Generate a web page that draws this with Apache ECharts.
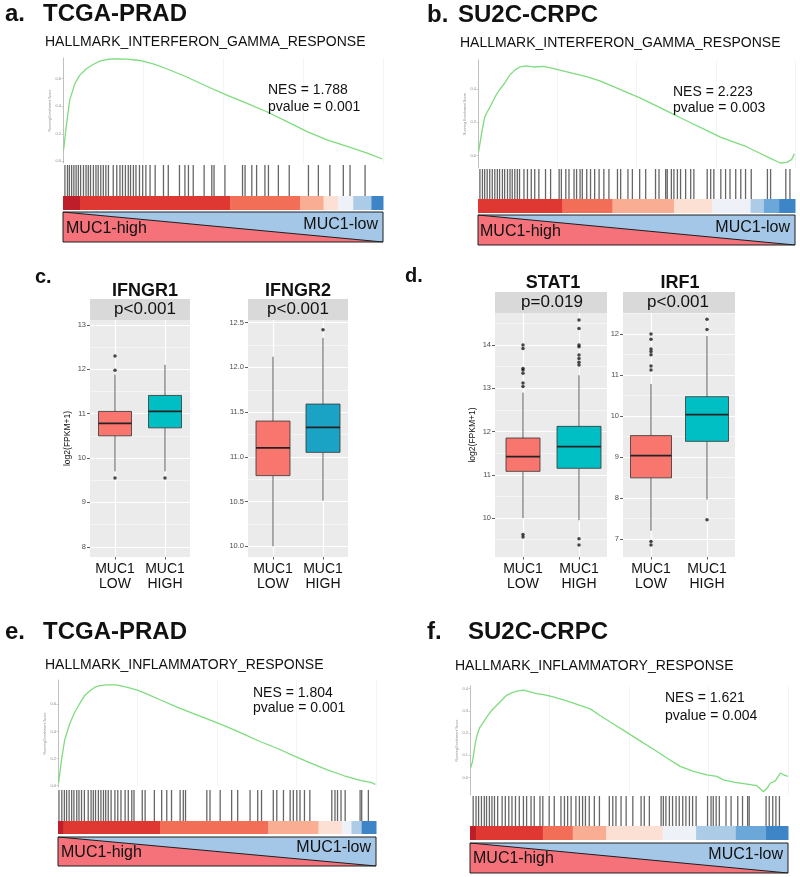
<!DOCTYPE html>
<html>
<head>
<meta charset="utf-8">
<script src="https://cdn.jsdelivr.net/npm/echarts@6/dist/echarts.min.js"></script>
<style>
html, body { margin: 0; padding: 0; background: #fff; }
#main { width: 800px; height: 877px; }
</style>
</head>
<body>
<div id="main"></div>
<script>
// ---------------- data ----------------
var groups = ['MUC1\nLOW', 'MUC1\nHIGH'];

// running enrichment score curves, [rank %, ES]
var esA = [[0.2,0.084],[1.0,0.252],[2.1,0.444],[3.7,0.564],[5.2,0.624],[7.3,0.672],[9.4,0.703],[11.5,0.727],[13.6,0.739],[15.7,0.744],[19.9,0.742],[24.0,0.732],[28.2,0.708],[32.4,0.672],[38.7,0.612],[44.9,0.545],[51.2,0.48],[57.5,0.42],[63.7,0.36],[70.0,0.288],[76.3,0.216],[82.5,0.156],[88.8,0.108],[95.1,0.06],[99.8,0.017]];
var esB = [[0.2,0.024],[1.1,0.131],[2.1,0.229],[2.8,0.259],[3.7,0.288],[4.7,0.327],[5.8,0.367],[6.8,0.396],[8.4,0.435],[10.0,0.484],[11.6,0.514],[13.2,0.533],[15.3,0.539],[17.4,0.533],[20.5,0.537],[22.6,0.529],[25.8,0.514],[30.0,0.494],[34.2,0.475],[38.4,0.449],[42.6,0.416],[46.8,0.382],[51.1,0.347],[55.3,0.308],[59.5,0.269],[63.7,0.229],[67.9,0.19],[72.1,0.151],[76.3,0.112],[80.5,0.082],[84.7,0.053],[88.9,0.014],[92.1,-0.016],[95.3,-0.045],[97.4,-0.041],[98.9,-0.025],[99.8,0.01]];
var esE = [[0.2,0.02],[1.1,0.19],[2.1,0.337],[3.7,0.459],[5.3,0.544],[6.8,0.605],[8.4,0.666],[10.0,0.698],[11.6,0.727],[13.2,0.739],[15.3,0.744],[18.4,0.744],[21.6,0.727],[24.7,0.707],[27.9,0.678],[32.1,0.634],[37.4,0.58],[42.6,0.532],[47.9,0.483],[53.2,0.434],[58.4,0.38],[63.7,0.324],[68.9,0.276],[74.2,0.22],[79.5,0.166],[84.7,0.117],[90.0,0.073],[95.3,0.037],[98.4,0.024],[99.8,0.01]];
var esF = [[0.2,0.043],[0.8,0.073],[1.6,0.149],[2.3,0.195],[3.1,0.226],[4.2,0.248],[5.2,0.271],[6.8,0.302],[8.4,0.325],[10.0,0.348],[11.5,0.37],[13.1,0.381],[14.7,0.389],[16.8,0.393],[18.9,0.386],[21.0,0.378],[23.1,0.373],[26.2,0.363],[30.4,0.345],[34.6,0.325],[37.8,0.309],[40.9,0.279],[45.1,0.241],[49.3,0.203],[53.5,0.165],[57.7,0.127],[61.9,0.088],[66.1,0.05],[70.3,0.027],[74.5,0.012],[77.6,0.005],[79.7,-0.011],[82.9,-0.021],[87.1,-0.03],[90.2,-0.037],[92.3,-0.064],[93.4,-0.049],[94.4,-0.026],[96.0,-0.015],[97.6,0.02],[98.6,0.012],[99.9,0.005]];

// y ranges and tick labels of the ES plots
var esRangeA = [-0.012, 0.75], esTicksA = [0, 0.2, 0.4, 0.6];
var esRangeB = [-0.075, 0.575], esTicksB = [0, 0.2, 0.4];
var esRangeE = [-0.01, 0.78], esTicksE = [0, 0.2, 0.4, 0.6];
var esRangeF = [-0.079, 0.412], esTicksF = [0, 0.1, 0.2, 0.3, 0.4];

// gene set hits (rank %)
var hitsA = [0.6,1.4,2.0,2.7,3.4,4.1,4.8,5.5,6.4,7.2,7.9,8.6,9.5,10.3,11.0,11.8,12.6,13.4,14.2,15.7,16.8,17.8,18.6,19.5,20.4,21.1,22.0,22.8,23.9,24.9,25.9,27.2,28.8,31.4,32.9,36.4,38.1,39.2,40.7,44.1,46.5,47.2,50.6,56.1,56.9,59.0,60.5,63.1,64.2,67.3,70.7,76.7,79.8,83.4,87.6,89.7,94.4];
var hitsB = [0.6,1.4,2.1,2.9,3.7,4.5,5.3,6.1,6.8,7.7,8.4,9.3,10.1,10.8,11.6,12.4,13.1,14.5,15.6,16.8,17.9,19.2,21.3,22.9,25.6,26.3,27.7,28.7,30.3,31.1,32.2,32.9,34.3,35.5,36.8,38.2,39.7,41.3,44.0,45.0,47.3,48.7,51.0,52.9,56.0,57.1,59.2,59.7,61.0,61.8,62.9,63.9,65.5,67.1,68.1,72.3,73.4,74.4,76.6,78.1,79.5,81.3,82.9,84.4,86.2,91.3,92.3,97.1,98.4];
var hitsE = [0.3,1.2,2.0,2.7,3.5,4.3,5.0,5.9,6.6,7.4,8.3,9.5,10.4,11.1,11.8,12.7,13.5,14.3,15.0,15.8,16.7,17.9,18.8,19.8,21.1,22.1,23.2,23.9,26.5,27.4,30.3,32.6,34.2,35.7,38.4,39.4,40.1,46.8,47.8,51.0,54.6,56.5,60.4,62.8,64.0,67.7,68.8,70.9,73.0,74.0,75.1,76.1,77.5,79.2,86.1,87.1,87.9,89.0,90.3,95.0,95.5,97.6];
var hitsF = [1.0,1.9,2.7,3.6,4.5,5.2,6.1,6.9,7.7,8.7,10.1,11.1,12.2,13.2,14.3,15.5,16.8,17.8,19.2,20.2,22.0,22.9,24.9,26.5,28.6,29.7,30.7,31.8,33.3,34.4,35.4,36.3,37.5,39.1,40.7,43.8,44.9,45.9,47.5,49.1,51.2,53.8,54.8,56.4,60.1,60.8,61.6,62.7,63.7,64.8,65.8,66.9,67.9,69.0,70.0,71.1,74.7,75.8,76.5,77.4,78.4,80.5,82.1,84.2,85.7,87.3,87.8,93.1,94.1,95.2,96.2,97.3];

// ranked list colour bands: [from %, to %, level 0 (high) .. 9 (low)]
var bandsA = [[0,5.3,0],[5.3,52.2,1],[52.2,74.1,2],[74.1,81.4,3],[81.4,86.0,4],[86.0,90.7,5],[90.7,96.4,7],[96.4,100,9]];
var bandsB = [[0,26.6,1],[26.6,42.4,2],[42.4,61.8,3],[61.8,73.9,4],[73.9,86.0,5],[86.0,90.2,7],[90.2,95.0,8],[95.0,100,9]];
var bandsE = [[0,1.7,0],[1.7,32.1,1],[32.1,66.1,2],[66.1,81.9,3],[81.9,89.2,4],[89.2,92.3,5],[92.3,95.5,7],[95.5,100,9]];
var bandsF = [[0,1.9,0],[1.9,22.9,1],[22.9,32.3,2],[32.3,42.8,3],[42.8,60.6,4],[60.6,71.1,5],[71.1,83.6,7],[83.6,93.1,8],[93.1,100,9]];

// high -> low gradient line of the phenotype bar
var gradientLine = [[0, 1], [100, 0]];

// boxplots: [min, Q1, median, Q3, max] for LOW, HIGH
var boxIFNGR1 = [[9.7, 10.5, 10.78, 11.05, 11.88], [9.7, 10.68, 11.05, 11.41, 12.1]];
var outIFNGR1 = [[0, 12.3], [0, 11.98], [0, 9.55], [1, 9.55]];
var boxIFNGR2 = [[10.0, 10.79, 11.1, 11.4, 12.12], [10.51, 11.05, 11.33, 11.59, 12.33]];
var outIFNGR2 = [[1, 12.42]];
var boxSTAT1 = [[10.0, 11.08, 11.42, 11.85, 12.9], [9.95, 11.15, 11.65, 12.12, 13.3]];
var outSTAT1 = [[0, 9.56], [0, 9.62], [0, 13.04], [0, 13.12], [0, 13.35], [0, 13.42], [0, 13.46], [0, 13.92], [0, 14.0],
                [1, 9.38], [1, 9.52], [1, 13.54], [1, 13.6], [1, 13.69], [1, 13.77], [1, 13.96], [1, 14.0], [1, 14.38], [1, 14.58]];
var boxIRF1 = [[7.2, 8.49, 9.03, 9.52, 10.78], [7.96, 9.38, 10.03, 10.47, 11.95]];
var outIRF1 = [[0, 6.85], [0, 6.94], [0, 11.12], [0, 11.22], [0, 11.49], [0, 11.57], [0, 11.63], [0, 11.87], [0, 12.0],
               [1, 7.47], [1, 12.11], [1, 12.36]];

// boxplot y ranges and tick values
var rangeIFNGR1 = [7.77, 13.11], majIFNGR1 = [8, 9, 10, 11, 12, 13], minIFNGR1 = [8.5, 9.5, 10.5, 11.5, 12.5];
var rangeIFNGR2 = [9.88, 12.53], majIFNGR2 = [10, 10.5, 11, 11.5, 12, 12.5], minIFNGR2 = [10.25, 10.75, 11.25, 11.75, 12.25];
var rangeSTAT1 = [9.10, 14.74], majSTAT1 = [10, 11, 12, 13, 14], minSTAT1 = [9.5, 10.5, 11.5, 12.5, 13.5, 14.5];
var rangeIRF1 = [6.56, 12.51], majIRF1 = [7, 8, 9, 10, 11, 12], minIRF1 = [7.5, 8.5, 9.5, 10.5, 11.5, 12.5];

// ---------------- style ----------------
var FONT = '"Liberation Sans", Arial, Helvetica, sans-serif';
var PAL = ['#BE1E2A', '#DF3832', '#F36E57', '#F9AD92', '#FDE0D4', '#EEF1F8', '#D2E2F1', '#ABCBE6', '#6BA7D8', '#3D85C6'];
var LOWC = '#F8766D', HIGHC = '#00BFC4';

var grids = [], xAxes = [], yAxes = [], series = [], graphics = [];

function addGrid(g, xa, ya) {
    var i = grids.length;
    g.outerBoundsMode = 'none';
    grids.push(g);
    xa.gridIndex = i; ya.gridIndex = i;
    xAxes.push(xa); yAxes.push(ya);
    return i;
}
function hidden(min, max) {
    return { type: 'value', min: min, max: max, show: false };
}
function txt(x, y, s, size, bold, align, color) {
    graphics.push({
        type: 'text', silent: true, z: 50,
        style: {
            x: x, y: y, text: s, fill: color || '#111',
            font: (bold ? 'bold ' : '') + size + 'px ' + FONT,
            textAlign: align || 'left', verticalAlign: 'middle'
        }
    });
}

// GSEA panel: curve + barcode + rank colour bar + phenotype bar
function gseaPanel(L, es, yr, ticks, hits, bands) {
    var i = addGrid({ left: L.left, top: L.curveTop, width: L.width, height: L.curveH },
        { type: 'value', min: 0, max: 100, interval: 25, axisLine: { show: false }, axisTick: { show: false },
          axisLabel: { show: false }, splitLine: { show: true, lineStyle: { color: '#F1F1F1', width: 0.8 } } },
        { type: 'value', min: yr[0], max: yr[1], splitLine: { show: false },
          axisLine: { show: true, lineStyle: { color: '#9A9A9A', width: 0.6 } },
          axisTick: { show: true, customValues: ticks, length: 1.5, lineStyle: { color: '#9A9A9A', width: 0.5 } },
          axisLabel: { show: true, customValues: ticks, fontSize: 4, color: '#888', margin: 2, fontFamily: FONT,
                       formatter: function (v) { return v.toFixed(1); } },
          name: 'Running Enrichment Score', nameLocation: 'middle', nameGap: 9,
          nameTextStyle: { fontSize: 3.5, color: '#888', fontFamily: FONT } });
    series.push({ type: 'line', xAxisIndex: i, yAxisIndex: i, data: es, symbol: 'none', silent: true,
                  lineStyle: { color: '#7EDC7E', width: 1.3 } });

    i = addGrid({ left: L.left, top: L.barTop, width: L.width, height: L.barH }, hidden(0, 100), hidden(0, 1));
    series.push({ type: 'custom', xAxisIndex: i, yAxisIndex: i, silent: true,
        data: hits.map(function (h) { return [h, 0]; }),
        renderItem: function (params, api) {
            var x = api.value(0);
            var p0 = api.coord([x, 0]), p1 = api.coord([x, 1]);
            return { type: 'line', shape: { x1: p0[0], y1: p0[1], x2: p1[0], y2: p1[1] },
                     style: { stroke: 'rgba(0,0,0,0.6)', lineWidth: 1.3 } };
        } });

    i = addGrid({ left: L.left, top: L.rankTop, width: L.width, height: L.rankH }, hidden(0, 100), hidden(0, 1));
    series.push({ type: 'custom', xAxisIndex: i, yAxisIndex: i, silent: true,
        data: bands,
        encode: { x: [0, 1] },
        renderItem: function (params, api) {
            var a = api.coord([api.value(0), 1]), b = api.coord([api.value(1), 0]);
            return { type: 'rect', shape: { x: a[0], y: a[1], width: b[0] - a[0] + 0.5, height: b[1] - a[1] },
                     style: { fill: PAL[api.value(2)] } };
        } });

    i = addGrid({ left: L.left, top: L.triTop, width: L.width, height: L.triH, show: true,
                  backgroundColor: '#A5C7E7', borderWidth: 0 }, hidden(0, 100), hidden(0, 1));
    series.push({ type: 'line', xAxisIndex: i, yAxisIndex: i, data: gradientLine, symbol: 'none', silent: true,
                  lineStyle: { color: '#1E1E1E', width: 1 }, areaStyle: { color: '#F5727B', opacity: 1 } });
    // frame on top
    addGrid({ left: L.left, top: L.triTop, width: L.width, height: L.triH, show: true, z: 6,
              backgroundColor: 'transparent', borderColor: '#1E1E1E', borderWidth: 1 }, hidden(0, 1), hidden(0, 1));
}

function boxRenderer(fills, widths) {
    return function (params, api) {
        var k = api.value(0);
        var lo = api.coord([k, api.value(1)]), q1 = api.coord([k, api.value(2)]),
            md = api.coord([k, api.value(3)]), q3 = api.coord([k, api.value(4)]),
            hi = api.coord([k, api.value(5)]);
        var x = lo[0], hw = widths[k] / 2;
        return { type: 'group', children: [
            { type: 'line', shape: { x1: x, y1: hi[1], x2: x, y2: q3[1] }, style: { stroke: '#333', lineWidth: 0.8 } },
            { type: 'line', shape: { x1: x, y1: q1[1], x2: x, y2: lo[1] }, style: { stroke: '#333', lineWidth: 0.8 } },
            { type: 'rect', shape: { x: x - hw, y: q3[1], width: 2 * hw, height: q1[1] - q3[1] },
              style: { fill: fills[k], stroke: '#333', lineWidth: 0.8 } },
            { type: 'line', shape: { x1: x - hw, y1: md[1], x2: x + hw, y2: md[1] }, style: { stroke: '#222', lineWidth: 1.8 } }
        ] };
    };
}

function boxPanel(L, stats, outs, range, majors, minors, fmt, yName) {
    var i = addGrid({ left: L.left, top: L.top, width: L.width, height: L.height, show: true,
                      backgroundColor: '#EBEBEB', borderWidth: 0 },
        { type: 'category', data: groups, boundaryGap: true, axisLine: { show: false },
          axisTick: { show: true, alignWithLabel: true, interval: 0, length: 2.5, lineStyle: { color: '#333', width: 0.8 } },
          axisLabel: { interval: 0, hideOverlap: false, fontSize: 14, color: '#111', lineHeight: 15, margin: 5, fontFamily: FONT },
          splitLine: { show: false } },
        { type: 'value', min: range[0], max: range[1], axisLine: { show: false }, splitLine: { show: false },
          axisTick: { show: true, customValues: majors, length: 3, lineStyle: { color: '#333', width: 0.8 } },
          axisLabel: { customValues: majors, fontSize: 7.5, color: '#4D4D4D', margin: 4, fontFamily: FONT, formatter: fmt },
          name: yName, nameLocation: 'middle', nameGap: 18,
          nameTextStyle: { fontSize: 8.5, color: '#111', fontFamily: FONT } });
    var lines = [];
    majors.forEach(function (v) { lines.push({ yAxis: v, lineStyle: { width: 1.2 } }); });
    minors.forEach(function (v) { lines.push({ yAxis: v, lineStyle: { width: 0.5 } }); });
    groups.forEach(function (g, k) { lines.push({ xAxis: k, lineStyle: { width: 1.2 } }); });
    series.push({ type: 'scatter', xAxisIndex: i, yAxisIndex: i, data: [], silent: true, z: 1,
        markLine: { silent: true, symbol: 'none', z: 1, label: { show: false },
                    lineStyle: { color: '#FFFFFF', type: 'solid' }, emphasis: { disabled: true }, data: lines } });
    series.push({ type: 'custom', xAxisIndex: i, yAxisIndex: i, silent: true, z: 3,
        data: stats.map(function (s, k) { return [k].concat(s); }),
        renderItem: boxRenderer(L.fills, L.boxW) });
    series.push({ type: 'scatter', xAxisIndex: i, yAxisIndex: i, silent: true, z: 4, clip: false,
        data: outs, symbolSize: 3.5, itemStyle: { color: '#1A1A1A' } });
    graphics.push({ type: 'rect', silent: true, z: 10,
        shape: { x: L.left, y: L.stripTop, width: L.width, height: L.top - L.stripTop },
        style: { fill: '#D9D9D9' } });
}

var int1 = function (v) { return String(v); };
var dec1 = function (v) { return v.toFixed(1); };

// ---------------- panels ----------------
gseaPanel({ left: 63, width: 320, curveTop: 58, curveH: 105, barTop: 165, barH: 31, rankTop: 196, rankH: 14, triTop: 212, triH: 30 },
          esA, esRangeA, esTicksA, hitsA, bandsA);
gseaPanel({ left: 478, width: 317, curveTop: 60, curveH: 108, barTop: 169, barH: 30, rankTop: 199, rankH: 14, triTop: 215, triH: 30 },
          esB, esRangeB, esTicksB, hitsB, bandsB);
gseaPanel({ left: 58, width: 318, curveTop: 680, curveH: 107, barTop: 790, barH: 31, rankTop: 821, rankH: 13, triTop: 837, triH: 29 },
          esE, esRangeE, esTicksE, hitsE, bandsE);
gseaPanel({ left: 470, width: 318, curveTop: 686, curveH: 109, barTop: 796, barH: 30, rankTop: 826, rankH: 14, triTop: 843, triH: 30 },
          esF, esRangeF, esTicksF, hitsF, bandsF);

boxPanel({ left: 90, top: 320, width: 100, height: 237, stripTop: 299, fills: [LOWC, HIGHC], boxW: [33, 33] },
         boxIFNGR1, outIFNGR1, rangeIFNGR1, majIFNGR1, minIFNGR1, int1, 'log2(FPKM+1)');
boxPanel({ left: 248, top: 320, width: 100, height: 237, stripTop: 299, fills: [LOWC, '#1BA3C6'], boxW: [34, 34] },
         boxIFNGR2, outIFNGR2, rangeIFNGR2, majIFNGR2, minIFNGR2, dec1, '');
boxPanel({ left: 495, top: 313, width: 112, height: 244, stripTop: 292, fills: [LOWC, HIGHC], boxW: [34, 44] },
         boxSTAT1, outSTAT1, rangeSTAT1, majSTAT1, minSTAT1, int1, 'log2(FPKM+1)');
boxPanel({ left: 623, top: 313, width: 112, height: 244, stripTop: 292, fills: [LOWC, HIGHC], boxW: [41, 43] },
         boxIRF1, outIRF1, rangeIRF1, majIRF1, minIRF1, int1, '');

// ---------------- text ----------------
txt(5, 14, 'a.', 24, true);
txt(43, 14, 'TCGA-PRAD', 24, true);
txt(45, 42, 'HALLMARK_INTERFERON_GAMMA_RESPONSE', 14);
txt(268, 90, 'NES = 1.788', 14);
txt(268, 107, 'pvalue = 0.001', 14);
txt(66, 229, 'MUC1-high', 16);
txt(378, 225, 'MUC1-low', 16, false, 'right');

txt(427, 15, 'b.', 24, true);
txt(458, 15, 'SU2C-CRPC', 24, true);
txt(460, 43, 'HALLMARK_INTERFERON_GAMMA_RESPONSE', 14);
txt(673, 92, 'NES = 2.223', 14);
txt(673, 108, 'pvalue = 0.003', 14);
txt(480, 232, 'MUC1-high', 16);
txt(790, 228, 'MUC1-low', 16, false, 'right');

txt(35, 277, 'c.', 20, true);
txt(145, 291, 'IFNGR1', 18, true, 'center');
txt(145, 309, 'p<0.001', 17, false, 'center');
txt(298, 291, 'IFNGR2', 18, true, 'center');
txt(298, 309, 'p<0.001', 17, false, 'center');

txt(405, 276, 'd.', 20, true);
txt(553, 283, 'STAT1', 18, true, 'center');
txt(552, 302, 'p=0.019', 17, false, 'center');
txt(680, 283, 'IRF1', 18, true, 'center');
txt(678, 302, 'p<0.001', 17, false, 'center');

txt(5, 632, 'e.', 24, true);
txt(43, 632, 'TCGA-PRAD', 24, true);
txt(45, 665, 'HALLMARK_INFLAMMATORY_RESPONSE', 14);
txt(253, 693, 'NES = 1.804', 14);
txt(253, 708, 'pvalue = 0.001', 14);
txt(61, 853, 'MUC1-high', 16);
txt(371, 848, 'MUC1-low', 16, false, 'right');

txt(427, 632, 'f.', 24, true);
txt(468, 632, 'SU2C-CRPC', 24, true);
txt(455, 666, 'HALLMARK_INFLAMMATORY_RESPONSE', 14);
txt(665, 698, 'NES = 1.621', 14);
txt(665, 716, 'pvalue = 0.004', 14);
txt(473, 859, 'MUC1-high', 16);
txt(783, 855, 'MUC1-low', 16, false, 'right');

var chart = echarts.init(document.getElementById('main'), null, { renderer: 'canvas' });
chart.setOption({
    animation: false,
    backgroundColor: '#fff',
    textStyle: { fontFamily: FONT },
    grid: grids,
    xAxis: xAxes,
    yAxis: yAxes,
    series: series,
    graphic: graphics
});
</script>
</body>
</html>
